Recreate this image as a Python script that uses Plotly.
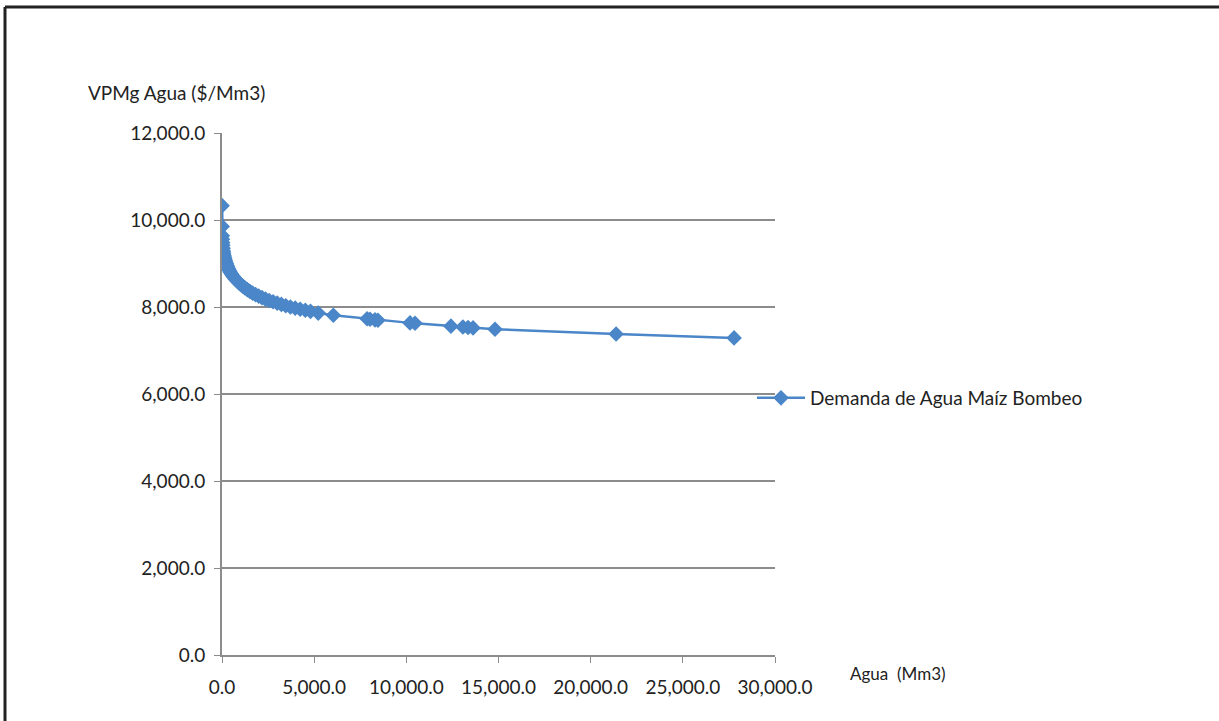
import plotly.graph_objects as go

# Demanda de agua - maíz bombeo
agua_mm3 = [5, 12, 18, 25, 35, 45, 60, 75, 90, 110, 130, 155, 180, 210, 240,
            275, 310, 350, 400, 450, 510, 580, 650, 730, 820, 910, 1010, 1120,
            1240, 1370, 1510, 1660, 1820, 1990, 2170, 2360, 2560, 2770, 2990,
            3220, 3460, 3710, 3970, 4240, 4520, 4800, 5220, 6040, 7870, 8030,
            8300, 8460, 10200, 10470, 12420, 13070, 13350, 13620, 14810,
            21380, 27780]
vpmg_agua = [10330, 9850, 9640, 9560, 9480, 9420, 9350, 9290, 9240, 9190, 9150,
             9110, 9070, 9030, 8995, 8955, 8920, 8880, 8840, 8800, 8760, 8720,
             8680, 8640, 8600, 8560, 8520, 8480, 8440, 8400, 8360, 8320, 8285,
             8250, 8215, 8180, 8150, 8120, 8090, 8060, 8030, 8000, 7975, 7950,
             7925, 7900, 7860, 7810, 7730, 7720, 7705, 7695, 7635, 7625, 7560,
             7540, 7530, 7520, 7490, 7380, 7290]

serie = "Demanda de Agua Maíz Bombeo"
x_ticks = [0, 5000, 10000, 15000, 20000, 25000, 30000]
y_ticks = [0, 2000, 4000, 6000, 8000, 10000, 12000]

azul = "#4a86c8"
gris = "#8c8c8c"
fuente = "Lato, 'Open Sans', sans-serif"

fig = go.Figure()
fig.add_trace(go.Scatter(
    x=agua_mm3, y=vpmg_agua,
    mode="lines+markers",
    name=serie,
    line=dict(color=azul, width=2.5),
    marker=dict(symbol="diamond", size=12, color=azul),
))

fig.update_xaxes(
    range=[0, 30000], tickvals=x_ticks, tickformat=",.1f",
    showgrid=False, zeroline=False,
    showline=True, linecolor=gris, linewidth=2,
    ticks="outside", ticklen=6, tickcolor=gris, tickwidth=1,
    ticklabelstandoff=8,
    tickfont=dict(size=19, color="#222"),
)
fig.update_yaxes(
    range=[0, 12000], tickvals=y_ticks, tickformat=",.1f",
    showgrid=True, gridcolor=gris, gridwidth=2, zeroline=False,
    showline=True, linecolor=gris, linewidth=2,
    ticks="outside", ticklen=6, tickcolor=gris, tickwidth=1,
    ticklabelstandoff=5,
    tickfont=dict(size=19, color="#222"),
)

# marco de la imagen (solo arriba e izquierda)
x_left = (5 - 222) / 553
y_top = (655 - 7) / 522
fig.add_shape(type="line", xref="paper", yref="paper",
              x0=x_left, x1=(1219 - 222) / 553, y0=y_top, y1=y_top,
              line=dict(color="#222", width=3))
fig.add_shape(type="line", xref="paper", yref="paper",
              x0=x_left, x1=x_left, y0=y_top, y1=(655 - 721) / 522,
              line=dict(color="#222", width=3))

fig.add_annotation(text="VPMg Agua ($/Mm3)", xref="paper", yref="paper",
                   x=(86 - 222) / 553, y=(655 - 92) / 522,
                   xanchor="left", yanchor="middle", showarrow=False,
                   font=dict(size=19, color="#222", family=fuente))
fig.add_annotation(text="Agua  (Mm3)", xref="paper", yref="paper",
                   x=(848 - 222) / 553, y=(655 - 673) / 522,
                   xanchor="left", yanchor="middle", showarrow=False,
                   font=dict(size=17, color="#222", family=fuente))

fig.update_layout(
    width=1219, height=721,
    margin=dict(l=222, r=444, t=133, b=66),
    paper_bgcolor="white", plot_bgcolor="white",
    font=dict(family=fuente, color="#222"),
    showlegend=True,
    legend=dict(x=(752 - 222) / 553, y=(655 - 398) / 522,
                xanchor="left", yanchor="middle", itemwidth=48,
                font=dict(size=19, color="#222"),
                bgcolor="rgba(0,0,0,0)"),
)

fig.write_html("out.html", config={"displayModeBar": False},
               post_script="document.body.style.margin='0';")
